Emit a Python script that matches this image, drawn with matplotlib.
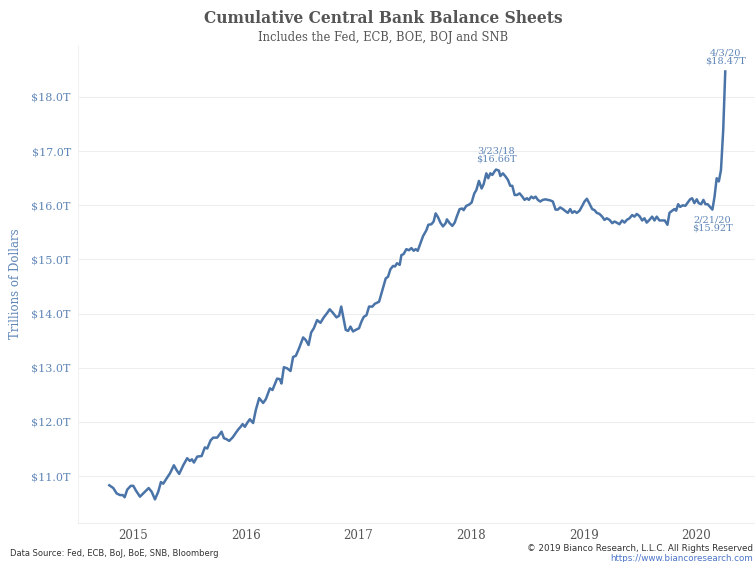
import matplotlib
matplotlib.use("Agg")
import matplotlib.pyplot as plt
import matplotlib.ticker as mticker

# weekly combined balance sheets (Fed, ECB, BOE, BOJ, SNB), trillions USD
# dates as decimal years
dates = [
    2014.790, 2014.825, 2014.855, 2014.885, 2014.909, 2014.926, 2014.949, 2014.980,
    2015.003, 2015.027, 2015.062, 2015.091, 2015.139, 2015.166, 2015.195, 2015.224,
    2015.248, 2015.269, 2015.299, 2015.328, 2015.363, 2015.387, 2015.410, 2015.446,
    2015.481, 2015.505, 2015.523, 2015.541, 2015.570, 2015.609, 2015.638, 2015.659,
    2015.689, 2015.712, 2015.747, 2015.786, 2015.807, 2015.831, 2015.854, 2015.887,
    2015.913, 2015.934, 2015.955, 2015.973, 2015.993, 2016.013, 2016.037, 2016.066,
    2016.090, 2016.120, 2016.155, 2016.179, 2016.215, 2016.238, 2016.279, 2016.303,
    2016.318, 2016.339, 2016.368, 2016.398, 2016.421, 2016.445, 2016.474, 2016.510,
    2016.534, 2016.558, 2016.581, 2016.605, 2016.634, 2016.664, 2016.693, 2016.723,
    2016.746, 2016.776, 2016.806, 2016.829, 2016.848, 2016.871, 2016.888, 2016.909,
    2016.930, 2016.953, 2016.977, 2017.006, 2017.027, 2017.048, 2017.072, 2017.095,
    2017.125, 2017.145, 2017.184, 2017.214, 2017.243, 2017.263, 2017.285, 2017.308,
    2017.325, 2017.343, 2017.367, 2017.382, 2017.402, 2017.426, 2017.449, 2017.471,
    2017.491, 2017.509, 2017.527, 2017.551, 2017.574, 2017.604, 2017.621, 2017.648,
    2017.668, 2017.686, 2017.707, 2017.728, 2017.751, 2017.775, 2017.786, 2017.810,
    2017.834, 2017.855, 2017.875, 2017.899, 2017.923, 2017.934, 2017.958, 2017.981,
    2018.005, 2018.029, 2018.047, 2018.070, 2018.094, 2018.112, 2018.136, 2018.153,
    2018.171, 2018.189, 2018.207, 2018.222, 2018.247, 2018.260, 2018.283, 2018.307,
    2018.327, 2018.348, 2018.366, 2018.387, 2018.407, 2018.431, 2018.455, 2018.475,
    2018.496, 2018.513, 2018.535, 2018.555, 2018.573, 2018.593, 2018.614, 2018.637,
    2018.661, 2018.682, 2018.703, 2018.726, 2018.750, 2018.770, 2018.791, 2018.815,
    2018.839, 2018.859, 2018.880, 2018.898, 2018.918, 2018.939, 2018.963, 2018.987,
    2019.007, 2019.028, 2019.051, 2019.075, 2019.096, 2019.116, 2019.140, 2019.164,
    2019.184, 2019.205, 2019.229, 2019.253, 2019.273, 2019.293, 2019.317, 2019.341,
    2019.362, 2019.382, 2019.406, 2019.430, 2019.450, 2019.471, 2019.495, 2019.519,
    2019.539, 2019.559, 2019.583, 2019.607, 2019.628, 2019.648, 2019.672, 2019.696,
    2019.719, 2019.743, 2019.761, 2019.785, 2019.805, 2019.820, 2019.838, 2019.856,
    2019.879, 2019.902, 2019.923, 2019.944, 2019.962, 2019.982, 2020.003, 2020.020,
    2020.042, 2020.062, 2020.080, 2020.100, 2020.121, 2020.142, 2020.161, 2020.180,
    2020.199, 2020.218, 2020.238, 2020.256,
]
values = [
    10.83, 10.78, 10.68, 10.65, 10.65, 10.61, 10.75, 10.82,
    10.82, 10.73, 10.62, 10.68, 10.78, 10.71, 10.57, 10.71,
    10.89, 10.86, 10.96, 11.05, 11.20, 11.11, 11.04, 11.20,
    11.33, 11.28, 11.31, 11.25, 11.36, 11.37, 11.53, 11.51,
    11.66, 11.71, 11.71, 11.82, 11.70, 11.68, 11.65, 11.72,
    11.80, 11.86, 11.91, 11.96, 11.91, 11.98, 12.05, 11.98,
    12.22, 12.44, 12.35, 12.42, 12.62, 12.59, 12.80, 12.79,
    12.71, 13.01, 12.99, 12.94, 13.20, 13.22, 13.36, 13.56,
    13.51, 13.42, 13.65, 13.73, 13.88, 13.83, 13.93, 14.01,
    14.08, 14.01, 13.93, 13.96, 14.13, 13.88, 13.70, 13.68,
    13.76, 13.67, 13.70, 13.73, 13.85, 13.94, 13.97, 14.13,
    14.13, 14.18, 14.22, 14.44, 14.65, 14.68, 14.82, 14.88,
    14.87, 14.93, 14.90, 15.08, 15.10, 15.19, 15.17, 15.21,
    15.16, 15.19, 15.16, 15.30, 15.43, 15.54, 15.64, 15.65,
    15.70, 15.85, 15.78, 15.68, 15.61, 15.67, 15.74, 15.67,
    15.62, 15.68, 15.80, 15.93, 15.94, 15.91, 15.99, 16.01,
    16.05, 16.22, 16.28, 16.45, 16.31, 16.39, 16.59, 16.50,
    16.59, 16.56, 16.62, 16.66, 16.64, 16.54, 16.59, 16.53,
    16.47, 16.36, 16.36, 16.19, 16.19, 16.22, 16.16, 16.10,
    16.13, 16.10, 16.16, 16.13, 16.16, 16.10, 16.07, 16.10,
    16.11, 16.10, 16.09, 16.07, 15.92, 15.92, 15.96, 15.93,
    15.89, 15.86, 15.93, 15.86, 15.89, 15.86, 15.90, 15.99,
    16.07, 16.12, 16.03, 15.93, 15.91, 15.86, 15.84, 15.79,
    15.73, 15.76, 15.73, 15.67, 15.70, 15.68, 15.65, 15.72,
    15.68, 15.73, 15.76, 15.82, 15.79, 15.84, 15.80, 15.72,
    15.76, 15.68, 15.73, 15.79, 15.72, 15.79, 15.72, 15.72,
    15.72, 15.64, 15.86, 15.90, 15.93, 15.90, 16.02, 15.97,
    16.00, 15.99, 16.05, 16.11, 16.13, 16.04, 16.11, 16.04,
    16.02, 16.10, 16.02, 16.02, 15.97, 15.92, 16.16, 16.50,
    16.44, 16.65, 17.39, 18.47,
]

years = [2015, 2016, 2017, 2018, 2019, 2020]
yticks = [11, 12, 13, 14, 15, 16, 17, 18]

# labelled points: (date, value, date text)
callouts = [
    (2018.222, 16.66, "3/23/18", "above"),
    (2020.142, 15.92, "2/21/20", "below"),
    (2020.256, 18.47, "4/3/20", "above"),
]

LINE = "#4a74a8"
BLUE_TXT = "#5f86b8"
GREY_TXT = "#555555"
FONT = "DejaVu Serif"

fig = plt.figure(figsize=(7.55, 5.62), dpi=100)
ax = fig.add_axes([0.103, 0.069, 0.897, 0.851])

ax.plot(dates, values, color=LINE, linewidth=1.8, solid_joinstyle="round", zorder=3)

ax.set_xlim(2014.51, 2020.52)
ax.set_ylim(10.13, 18.96)

ax.set_xticks(years)
ax.set_xticklabels([str(y) for y in years], fontsize=8.5, color=GREY_TXT, family=FONT)
ax.set_yticks(yticks)
ax.yaxis.set_major_formatter(mticker.FuncFormatter(lambda v, p: "${:.1f}T".format(v)))
for lab in ax.get_yticklabels():
    lab.set_fontsize(8)
    lab.set_color(BLUE_TXT)
    lab.set_family(FONT)

ax.tick_params(axis="y", length=0, pad=5)
ax.tick_params(axis="x", length=0, pad=4)
ax.grid(axis="y", color="#eeeeee", linewidth=0.8, zorder=0)
for side in ["top", "right"]:
    ax.spines[side].set_visible(False)
ax.spines["left"].set_color("#f2f2f2")
ax.spines["bottom"].set_color("#eeeeee")

ax.set_ylabel("Trillions of Dollars", fontsize=8.5, color=BLUE_TXT, family=FONT)
ax.yaxis.set_label_coords(-0.082, 0.5)

for d, v, txt, pos in callouts:
    label = "{}\n${:.2f}T".format(txt, v)
    if pos == "above":
        ax.annotate(label, (d, v), xytext=(0, 4), textcoords="offset points",
                    ha="center", va="bottom", fontsize=7, color=BLUE_TXT,
                    family=FONT, linespacing=0.95)
    else:
        ax.annotate(label, (d, v), xytext=(0, -4), textcoords="offset points",
                    ha="center", va="top", fontsize=7, color=BLUE_TXT,
                    family=FONT, linespacing=0.95)

fig.text(0.508, 0.967, "Cumulative Central Bank Balance Sheets", ha="center", va="center",
         fontsize=11.2, fontweight="bold", color=GREY_TXT, family=FONT)
fig.text(0.508, 0.934, "Includes the Fed, ECB, BOE, BOJ and SNB", ha="center", va="center",
         fontsize=8.3, color=GREY_TXT, family=FONT)

fig.text(0.013, 0.016, "Data Source: Fed, ECB, BoJ, BoE, SNB, Bloomberg", ha="left", va="center",
         fontsize=6, color="#333333", family="Liberation Sans Narrow")
fig.text(0.998, 0.024, "\u00a9 2019 Bianco Research, L.L.C. All Rights Reserved", ha="right",
         va="center", fontsize=6.3, color="#333333", family="Liberation Sans Narrow")
fig.text(0.998, 0.006, "https://www.biancoresearch.com", ha="right", va="center",
         fontsize=6.3, color="#4a74c8", family="Liberation Sans Narrow")

fig.savefig("out.png", dpi=100)
